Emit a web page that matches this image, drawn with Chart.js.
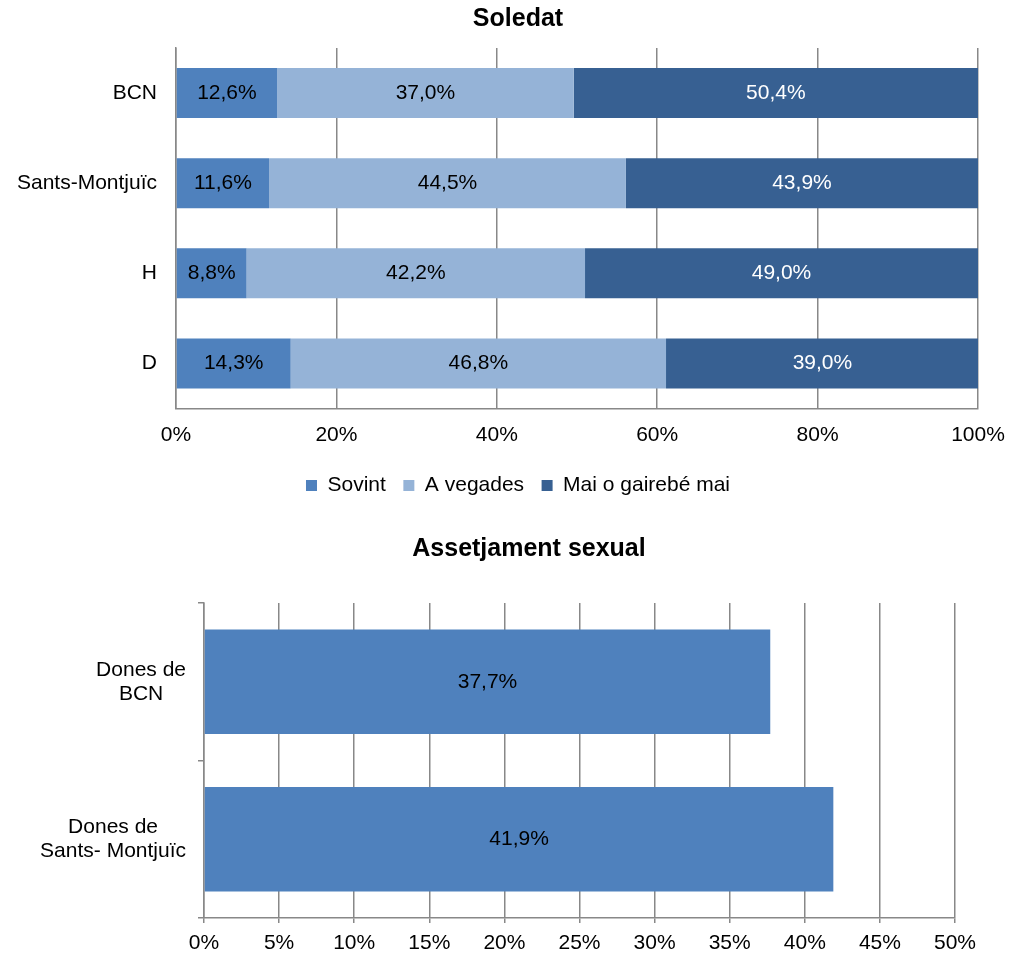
<!DOCTYPE html>
<html>
<head>
<meta charset="utf-8">
<script src="https://cdn.jsdelivr.net/npm/chart.js@4.4.1/dist/chart.umd.min.js"></script>
<style>
  html, body { margin: 0; padding: 0; background: #ffffff; }
  body { width: 1015px; height: 953px; position: relative; overflow: hidden; }
  #c1 { position: absolute; left: 0; top: 0; }
  #c2 { position: absolute; left: 0; top: 515px; }
</style>
</head>
<body>
<canvas id="c1" width="1015" height="506"></canvas>
<canvas id="c2" width="1015" height="438"></canvas>
<script>
// ---- Data ----
const soledatTitle = 'Soledat';
const soledatCategories = ['BCN', 'Sants-Montjuïc', 'H', 'D'];
const seriesNames = ['Sovint', 'A vegades', 'Mai o gairebé mai'];
const sovint = [12.6, 11.6, 8.8, 14.3];
const aVegades = [37.0, 44.5, 42.2, 46.8];
const maiGairebeMai = [50.4, 43.9, 49.0, 39.0];

const assetjamentTitle = 'Assetjament sexual';
const assetjamentCategories = [['Dones de', 'BCN'], ['Dones de', 'Sants- Montjuïc']];
const assetjament = [37.7, 41.9];

// ---- Styles ----
const FONT = "'Liberation Sans', Arial, sans-serif";
const GRID = '#888888';
const C_SOVINT = '#4F81BD';
const C_AVEG = '#95B3D7';
const C_MAI = '#376092';

Chart.defaults.font.family = FONT;
Chart.defaults.color = '#000000';
Chart.defaults.animation = false;

const fmt = v => v.toFixed(1).replace('.', ',') + '%';

const valueLabels = {
  id: 'valueLabels',
  afterDatasetsDraw(chart) {
    const ctx = chart.ctx;
    ctx.save();
    ctx.font = '21px ' + FONT;
    ctx.textAlign = 'center';
    ctx.textBaseline = 'middle';
    chart.data.datasets.forEach((ds, di) => {
      const meta = chart.getDatasetMeta(di);
      meta.data.forEach((el, i) => {
        ctx.fillStyle = ds.labelColor || '#000000';
        ctx.fillText(fmt(ds.data[i]), (el.x + el.base) / 2, el.y);
      });
    });
    ctx.restore();
  }
};

const catLabels = {
  id: 'catLabels',
  afterDraw(chart, args, opts) {
    const scale = chart.scales.y;
    const ctx = chart.ctx;
    ctx.save();
    ctx.font = '21px ' + FONT;
    ctx.fillStyle = '#000000';
    ctx.textAlign = 'center';
    ctx.textBaseline = 'middle';
    chart.data.labels.forEach((lab, i) => {
      const lines = Array.isArray(lab) ? lab : [lab];
      const widest = Math.max(...lines.map(l => ctx.measureText(l).width));
      const cx = scale.right - opts.gap - widest / 2;
      const yc = scale.getPixelForValue(i);
      lines.forEach((l, j) => {
        ctx.fillText(l, cx, yc + (j - (lines.length - 1) / 2) * opts.lineHeight);
      });
    });
    ctx.restore();
  }
};

// ---- Chart 1: Soledat ----
new Chart(document.getElementById('c1'), {
  type: 'bar',
  data: {
    labels: soledatCategories,
    datasets: [
      { label: seriesNames[0], data: sovint, backgroundColor: C_SOVINT, labelColor: '#000000' },
      { label: seriesNames[1], data: aVegades, backgroundColor: C_AVEG, labelColor: '#000000' },
      { label: seriesNames[2], data: maiGairebeMai, backgroundColor: C_MAI, labelColor: '#ffffff' }
    ]
  },
  options: {
    indexAxis: 'y',
    responsive: false,
    devicePixelRatio: 1,
    layout: { padding: { left: 58, right: 37, top: 0, bottom: 0 } },
    datasets: { bar: { categoryPercentage: 1, barPercentage: 0.5556 } },
    scales: {
      x: {
        stacked: true,
        min: 0, max: 100,
        grid: { color: GRID, lineWidth: 1.5, drawTicks: true, tickLength: 14, tickColor: 'rgba(0,0,0,0)' },
        border: { display: true, color: GRID, width: 1.5 },
        ticks: { stepSize: 20, padding: 0.5, font: { size: 21 }, color: '#000000',
                 callback: v => v + '%' },
        afterFit: s => { s.height = 49; }
      },
      y: {
        stacked: true,
        grid: { display: false },
        border: { display: true, color: GRID, width: 1.5 },
        ticks: { display: false },
        afterFit: s => { s.width = 118; }
      }
    },
    plugins: {
      title: {
        display: true, text: soledatTitle, color: '#000000',
        font: { size: 25, weight: 'bold' },
        padding: { top: 4, bottom: 14 }
      },
      legend: {
        position: 'bottom',
        labels: { boxWidth: 11, boxHeight: 11, padding: 17.5, font: { size: 21 }, color: '#000000' }
      },
      tooltip: { enabled: false },
      catLabels: { gap: 19, lineHeight: 24 }
    }
  },
  plugins: [valueLabels, catLabels]
});

// ---- Chart 2: Assetjament sexual ----
new Chart(document.getElementById('c2'), {
  type: 'bar',
  data: {
    labels: assetjamentCategories,
    datasets: [
      { label: assetjamentTitle, data: assetjament, backgroundColor: C_SOVINT, labelColor: '#000000' }
    ]
  },
  options: {
    indexAxis: 'y',
    responsive: false,
    devicePixelRatio: 1,
    layout: { padding: { left: 103, right: 60, top: 0, bottom: 0 } },
    datasets: { bar: { categoryPercentage: 1, barPercentage: 0.663 } },
    scales: {
      x: {
        min: 0, max: 50,
        grid: { color: GRID, lineWidth: 1.5, drawTicks: true, tickLength: 5 },
        border: { display: true, color: GRID, width: 1.5 },
        ticks: { stepSize: 5, padding: 7.5, font: { size: 21 }, color: '#000000',
                 callback: v => v + '%' },
        afterFit: s => { s.height = 35; }
      },
      y: {
        grid: { display: true, drawOnChartArea: false, drawTicks: true, tickLength: 6,
                color: GRID, lineWidth: 1.5, offset: true },
        border: { display: true, color: GRID, width: 1.5 },
        ticks: { display: false },
        afterFit: s => { s.width = 101; }
      }
    },
    plugins: {
      title: {
        display: true, text: assetjamentTitle, color: '#000000',
        font: { size: 25, weight: 'bold' },
        padding: { top: 19.2, bottom: 38.8 }
      },
      legend: { display: false },
      tooltip: { enabled: false },
      catLabels: { gap: 18, lineHeight: 24 }
    }
  },
  plugins: [valueLabels, catLabels]
});
</script>
</body>
</html>
